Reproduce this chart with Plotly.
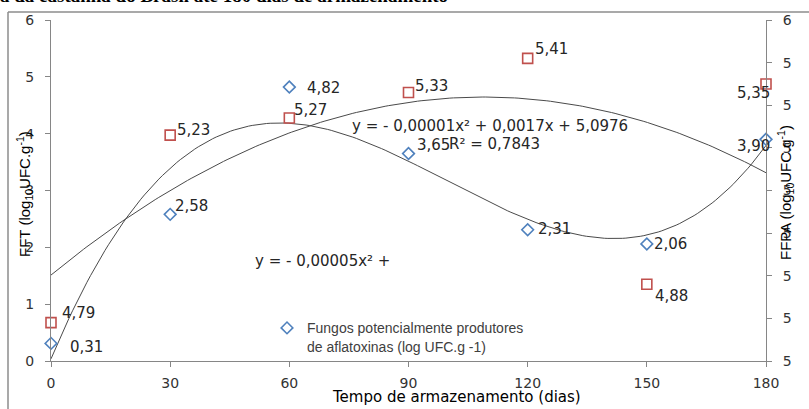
import numpy as np
import plotly.graph_objects as go

# ---- data ----
days = [0, 30, 60, 90, 120, 150, 180]
fft_values = [0.31, 2.58, 4.82, 3.65, 2.31, 2.06, 3.90]      # blue diamonds (left axis)
ffpa_values = [4.79, 5.23, 5.27, 5.33, 5.41, 4.88, 5.35]     # red squares (right axis)
x_ticks = [0, 30, 60, 90, 120, 150, 180]
left_ticks = [0, 1, 2, 3, 4, 5, 6]
right_tickvals = [4.7, 4.8, 4.9, 5.0, 5.1, 5.2, 5.3, 5.4, 5.5]
right_ticktext = ["5", "5", "5", "5", "5", "5", "5", "5", "6"]
legend_name = "Fungos potencialmente produtores<br>de aflatoxinas (log UFC.g -1)"
eq1_text = "y = - 0,00001x² + 0,0017x + 5,0976"
r2_text = "R² = 0,7843"
eq2_text = "y = - 0,00005x² +"
title_text = "a da castanha do Brasil até 180 dias de armazenamento"
x_title = "Tempo de armazenamento (dias)"
y_title = "FFT (log<sub>10</sub>UFC.g<sup>-1</sup>)"
y2_title = "FFPA (log<sub>10</sub>UFC.g<sup>-1</sup>)"

# ---- label placement styles (xanchor, xshift px, down-offset px) ----
blue_lab = [("left", 17, 4), ("left", 3, -8), ("left", 16, 1), ("left", 6, -9),
            ("left", 8, -1), ("left", 5, 0), ("right", 6, 7)]
red_lab = [("left", 9, -10), ("left", 5, -5), ("left", 3, -8), ("left", 4, -6),
           ("left", 5, -9), ("left", 6, 12), ("right", 6, 9)]

# trendlines fitted from the data
xs = np.linspace(0, 180, 200)
blue_fit = np.polyval(np.polyfit(days, fft_values, 3), xs)
red_fit = np.polyval(np.polyfit(days, ffpa_values, 2), xs)

BLUE = "#4F81BD"
RED = "#C0504D"
AX = "#868686"
TXT = "#262626"
LBL_FONT = dict(family="DejaVu Sans", size=15, color=TXT)

fig = go.Figure()
fig.add_trace(go.Scatter(x=xs, y=blue_fit, mode="lines", line=dict(color="#4a4a4a", width=1),
                         showlegend=False, hoverinfo="skip"))
fig.add_trace(go.Scatter(x=xs, y=red_fit, mode="lines", line=dict(color="#4a4a4a", width=1),
                         showlegend=False, hoverinfo="skip", yaxis="y2"))
fig.add_trace(go.Scatter(x=days, y=fft_values, mode="markers", name=legend_name,
                         marker=dict(symbol="diamond-open", size=9, color=BLUE, line=dict(width=1.6, color=BLUE)),
                         cliponaxis=False))
fig.add_trace(go.Scatter(x=days, y=ffpa_values, mode="markers", showlegend=False, yaxis="y2",
                         marker=dict(symbol="square-open", size=10, color=RED, line=dict(width=1.6, color=RED)),
                         cliponaxis=False))

def fmt(v):
    return f"{v:.2f}".replace(".", ",")

annotations = []
for d, v, (xa, xsft, dy) in zip(days, fft_values, blue_lab):
    annotations.append(dict(x=d, y=v, xref="x", yref="y", text=fmt(v), showarrow=False,
                            xanchor=xa, yanchor="middle", xshift=xsft, yshift=-dy, font=LBL_FONT))
for d, v, (xa, xsft, dy) in zip(days, ffpa_values, red_lab):
    annotations.append(dict(x=d, y=v, xref="x", yref="y2", text=fmt(v), showarrow=False,
                            xanchor=xa, yanchor="middle", xshift=xsft, yshift=-dy, font=LBL_FONT))

L, R, T, B = 51, 766, 18, 361
PW, PH = R - L, B - T
def px(xp):
    return (xp - L) / PW
def py(yp):
    return 1 - (yp - T) / PH

annotations += [
    dict(x=px(350), y=py(125), xref="paper", yref="paper", text=eq1_text, showarrow=False,
         xanchor="left", yanchor="middle", font=LBL_FONT),
    dict(x=px(447), y=py(143), xref="paper", yref="paper", text=r2_text, showarrow=False,
         xanchor="left", yanchor="middle", font=LBL_FONT),
    dict(x=px(253), y=py(260), xref="paper", yref="paper", text=eq2_text, showarrow=False,
         xanchor="left", yanchor="middle", font=LBL_FONT),
    dict(x=px(330), y=py(397), xref="paper", yref="paper", text=x_title, showarrow=False,
         xanchor="left", yanchor="middle", font=dict(family="DejaVu Sans", size=15, color="#000")),
    dict(x=px(25), y=py(193), xref="paper", yref="paper", text=y_title, showarrow=False,
         textangle=-90, xanchor="center", yanchor="middle",
         font=dict(family="Liberation Sans", size=15, color="#000")),
    dict(x=px(786), y=py(192), xref="paper", yref="paper", text=y2_title, showarrow=False,
         textangle=-90, xanchor="center", yanchor="middle",
         font=dict(family="Liberation Sans", size=15, color="#000")),
    dict(x=px(-2), y=py(6), xref="paper", yref="paper", text="<b>" + title_text + "</b>", showarrow=False,
         xanchor="left", yanchor="bottom", font=dict(family="Liberation Serif", size=19, color="#000")),
]

shapes = [
    dict(type="line", xref="paper", yref="paper", x0=px(8), x1=px(809), y0=py(10), y1=py(10),
         line=dict(color="#8c8c8c", width=1.5)),
    dict(type="line", xref="paper", yref="paper", x0=px(8), x1=px(8), y0=py(10), y1=py(420),
         line=dict(color="#8c8c8c", width=1.5)),
]

tickfont = dict(family="DejaVu Sans", size=14, color="#333")
fig.update_layout(
    width=809, height=409,
    margin=dict(l=L, r=809 - R, t=T, b=409 - B),
    paper_bgcolor="white", plot_bgcolor="white",
    xaxis=dict(range=[0, 180], tickvals=x_ticks, showgrid=False, zeroline=False,
               showline=True, linecolor=AX, linewidth=1, ticks="outside", ticklen=5, tickcolor=AX,
               tickfont=tickfont, ticklabelstandoff=4),
    yaxis=dict(range=[0, 6], tickvals=left_ticks, showgrid=False, zeroline=False,
               showline=True, linecolor=AX, linewidth=1, ticks="outside", ticklen=5, tickcolor=AX,
               tickfont=tickfont, ticklabelstandoff=8),
    yaxis2=dict(range=[4.7, 5.5], overlaying="y", side="right", tickvals=right_tickvals,
                ticktext=right_ticktext, showgrid=False, zeroline=False,
                showline=True, linecolor=AX, linewidth=1, ticks="outside", ticklen=5, tickcolor=AX,
                tickfont=tickfont, ticklabelstandoff=8),
    legend=dict(x=px(267), y=py(312), xanchor="left", yanchor="top", bgcolor="rgba(0,0,0,0)",
                font=dict(family="Liberation Sans", size=14, color="#404040"), valign="top",
                itemwidth=30),
    annotations=annotations,
    shapes=shapes,
)

fig.write_html("out.html", config={"displayModeBar": False},
               post_script="document.body.style.margin='0';")
